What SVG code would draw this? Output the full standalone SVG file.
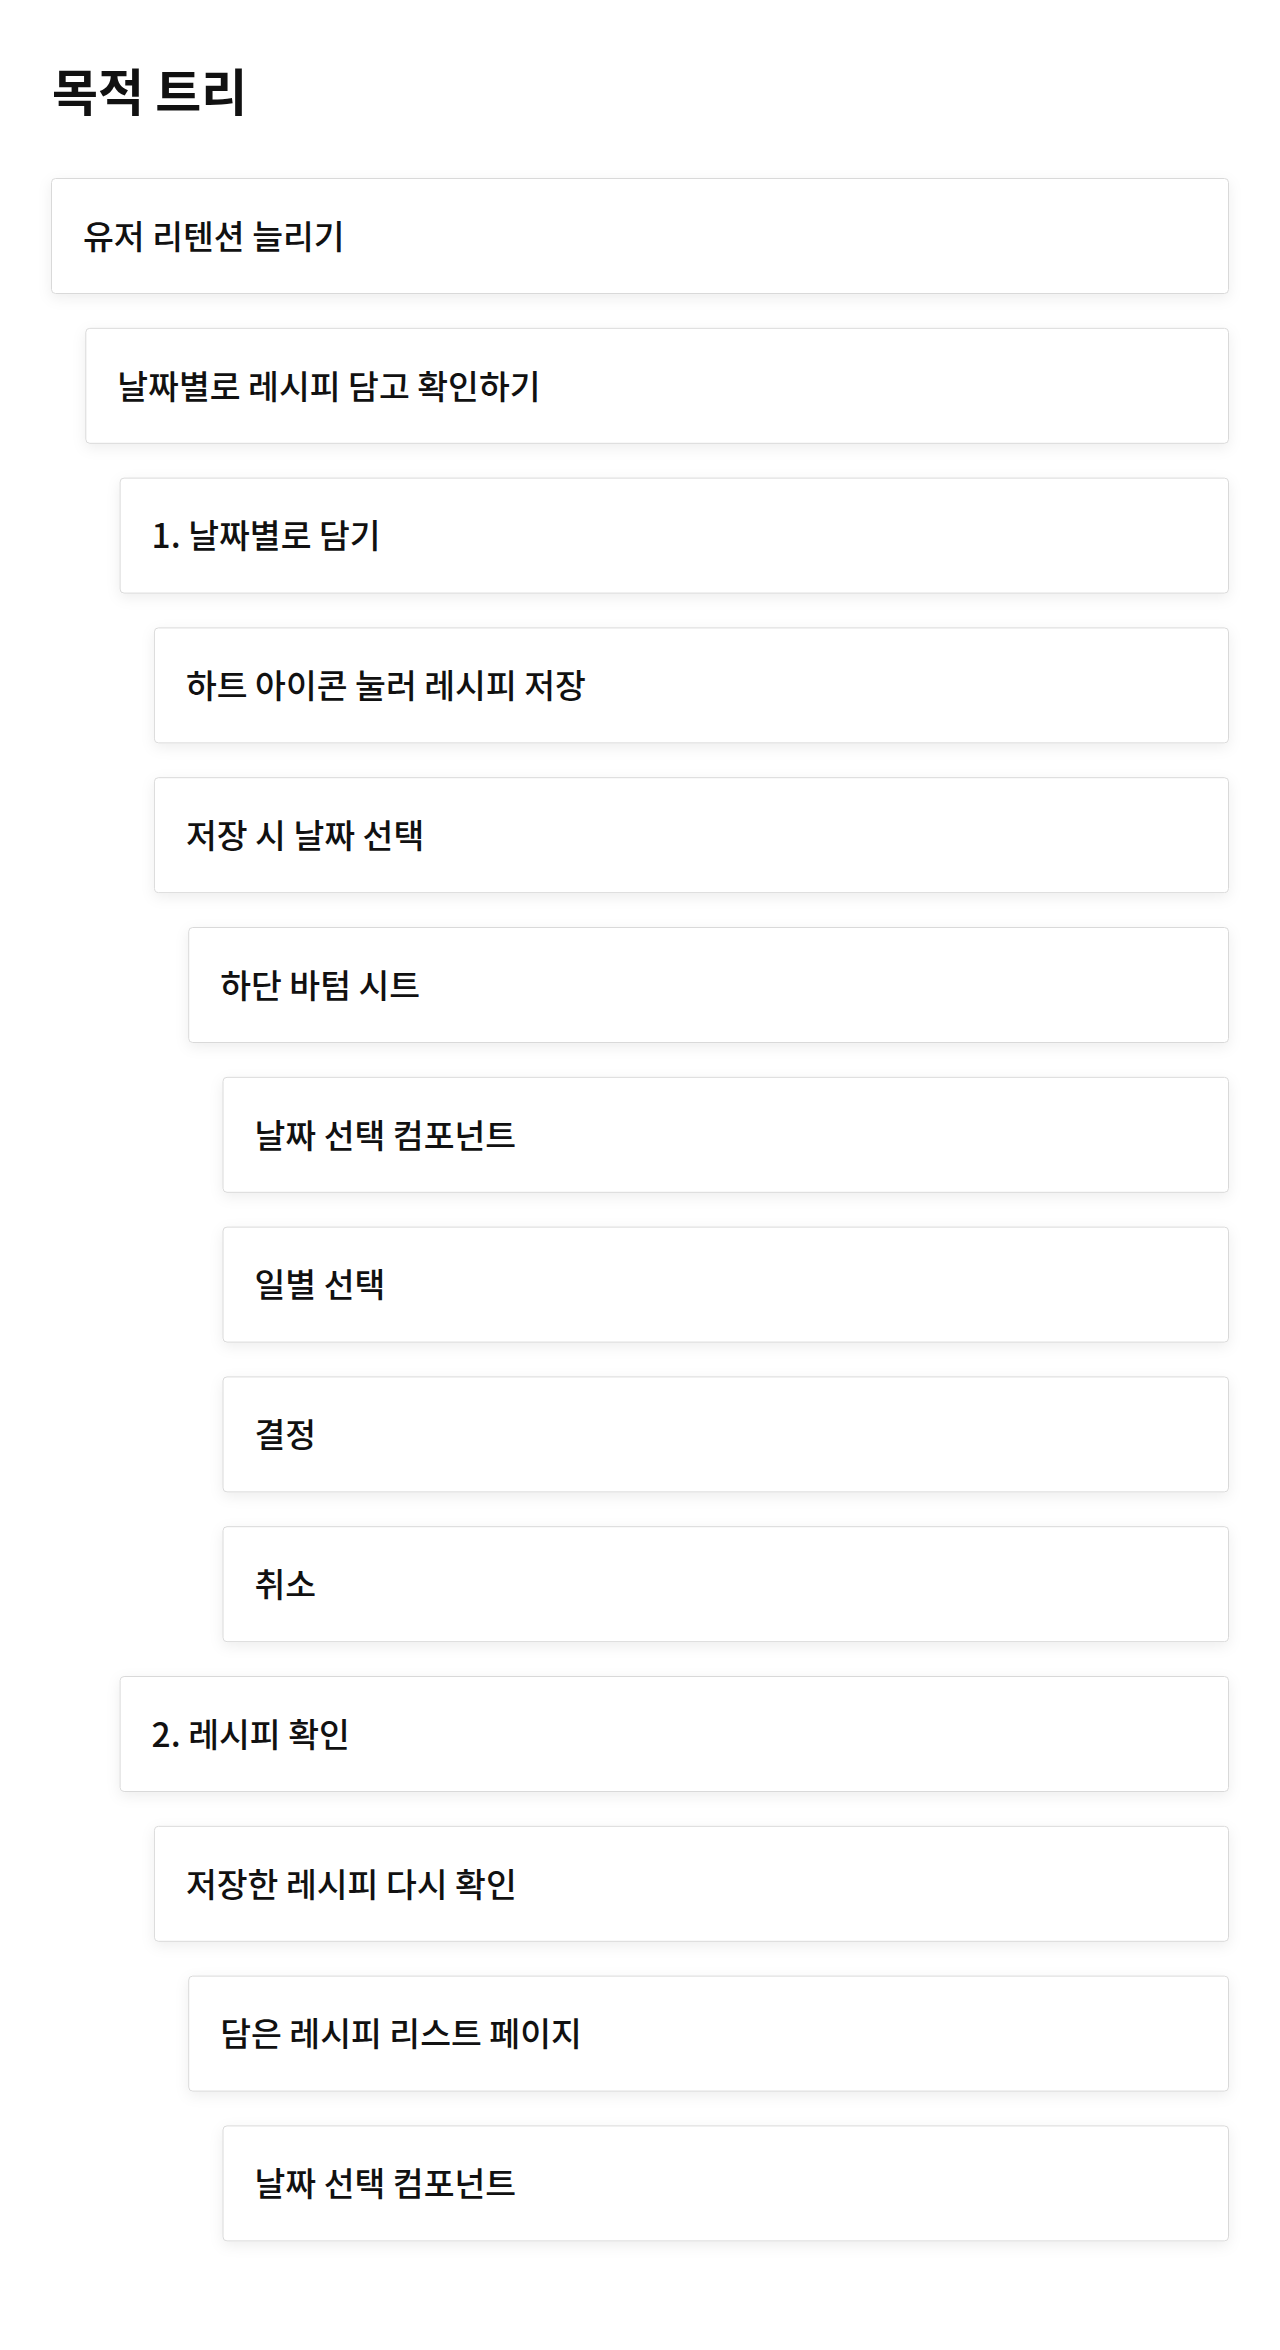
<svg xmlns="http://www.w3.org/2000/svg" width="1280" height="2350" viewBox="0 0 1280 2350">
<defs>
<style>
.card{fill:#ffffff;stroke:#d9d9d9;stroke-width:1;filter:url(#sh)}
.lbl{font-family:"Noto Sans CJK KR","Noto Sans",sans-serif;font-size:33.5px;font-weight:500;fill:#111111}
.title{font-family:"Noto Sans CJK KR","Noto Sans",sans-serif;font-size:50px;font-weight:700;fill:#111111}
</style>
<filter id="sh" x="-5%" y="-30%" width="110%" height="170%">
<feDropShadow dx="0" dy="4" stdDeviation="7" flood-color="#000" flood-opacity="0.07"/>
</filter>
</defs>
<rect width="1280" height="2350" fill="#ffffff"/>
<text class="title" x="52" y="111">목적 트리</text>
<g id="connectors"></g>
<g id="n0"><rect class="card" x="51.5" y="178.5" width="1177" height="115" rx="4"/><text class="lbl" x="83" y="249">유저 리텐션 늘리기</text></g>
<g id="n1"><rect class="card" x="85.8" y="328.3" width="1142.7" height="115" rx="4"/><text class="lbl" x="117.3" y="399">날짜별로 레시피 담고 확인하기</text></g>
<g id="n2"><rect class="card" x="120.1" y="478.1" width="1108.4" height="115" rx="4"/><text class="lbl" x="151.6" y="548">1. 날짜별로 담기</text></g>
<g id="n3"><rect class="card" x="154.4" y="627.9" width="1074.1" height="115" rx="4"/><text class="lbl" x="185.9" y="698">하트 아이콘 눌러 레시피 저장</text></g>
<g id="n4"><rect class="card" x="154.4" y="777.7" width="1074.1" height="115" rx="4"/><text class="lbl" x="185.9" y="848">저장 시 날짜 선택</text></g>
<g id="n5"><rect class="card" x="188.7" y="927.5" width="1039.8" height="115" rx="4"/><text class="lbl" x="220.2" y="998">하단 바텀 시트</text></g>
<g id="n6"><rect class="card" x="223" y="1077.3" width="1005.5" height="115" rx="4"/><text class="lbl" x="254.5" y="1148">날짜 선택 컴포넌트</text></g>
<g id="n7"><rect class="card" x="223" y="1227.1" width="1005.5" height="115" rx="4"/><text class="lbl" x="254.5" y="1297">일별 선택</text></g>
<g id="n8"><rect class="card" x="223" y="1376.9" width="1005.5" height="115" rx="4"/><text class="lbl" x="254.5" y="1447">결정</text></g>
<g id="n9"><rect class="card" x="223" y="1526.7" width="1005.5" height="115" rx="4"/><text class="lbl" x="254.5" y="1597">취소</text></g>
<g id="n10"><rect class="card" x="120.1" y="1676.5" width="1108.4" height="115" rx="4"/><text class="lbl" x="151.6" y="1747">2. 레시피 확인</text></g>
<g id="n11"><rect class="card" x="154.4" y="1826.3" width="1074.1" height="115" rx="4"/><text class="lbl" x="185.9" y="1897">저장한 레시피 다시 확인</text></g>
<g id="n12"><rect class="card" x="188.7" y="1976.1" width="1039.8" height="115" rx="4"/><text class="lbl" x="220.2" y="2046">담은 레시피 리스트 페이지</text></g>
<g id="n13"><rect class="card" x="223" y="2125.9" width="1005.5" height="115" rx="4"/><text class="lbl" x="254.5" y="2196">날짜 선택 컴포넌트</text></g>
</svg>
